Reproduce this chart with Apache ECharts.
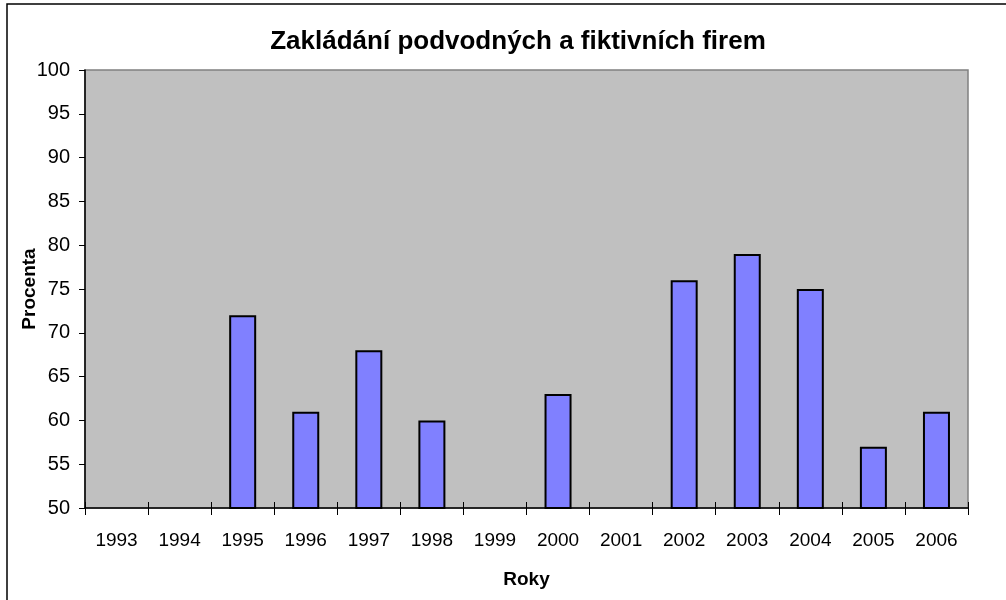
<!DOCTYPE html>
<html lang="cs">
  <head>
    <meta charset="UTF-8" />
    <title>Zakládání podvodných a fiktivních firem</title>
    <script src="https://cdn.jsdelivr.net/npm/echarts@6/dist/echarts.min.js"></script>
  </head>
  <body style="margin: 0">
    <div id="chart" style="width: 1006px; height: 600px"></div>
    <script>
      const years = ["1993", "1994", "1995", "1996", "1997", "1998", "1999", "2000", "2001", "2002", "2003", "2004", "2005", "2006"];
      const percent = [null, null, 72, 61, 68, 60, null, 63, null, 76, 79, 75, 57, 61];

      const font = "Liberation Sans, Arial, sans-serif";
      const chart = echarts.init(document.getElementById("chart"));

      const option = {
        animation: false,
        backgroundColor: "#fff",
        textStyle: { fontFamily: font },
        title: {
          text: "Zakládání podvodných a fiktivních firem",
          left: 513,
          textAlign: "center",
          top: 24,
          textStyle: { fontSize: 26, fontWeight: "bold", color: "#000", fontFamily: font },
        },
        graphic: [
          {
            type: "rect",
            shape: { x: 7, y: 4, width: 1100, height: 700 },
            style: { fill: null, stroke: "#000", lineWidth: 1.5 },
          },
        ],
        grid: {
          left: 85,
          right: 38,
          top: 70,
          bottom: 92,
          show: true,
          backgroundColor: "#c0c0c0",
          borderColor: "#808080",
          borderWidth: 1.5,
        },
        xAxis: [
          {
            type: "category",
            data: years,
            name: "Roky",
            nameLocation: "middle",
            nameGap: 62,
            nameMoveOverlap: false,
            nameTextStyle: { fontSize: 19, fontWeight: "bold", color: "#000" },
            axisLine: { lineStyle: { color: "#000", width: 1.5 } },
            axisTick: { show: true, length: 7, lineStyle: { color: "#000" } },
            axisLabel: { fontSize: 19, color: "#000", margin: 23 },
          },
          {
            type: "category",
            data: years,
            position: "bottom",
            axisLine: { show: false },
            axisTick: { show: true, inside: true, length: 6, lineStyle: { color: "#000" } },
            axisLabel: { show: false },
          },
        ],
        yAxis: {
          type: "value",
          min: 50,
          max: 100,
          interval: 5,
          name: "Procenta",
          nameLocation: "middle",
          nameGap: 46,
          nameMoveOverlap: false,
          nameTextStyle: { fontSize: 19, fontWeight: "bold", color: "#000" },
          axisLine: { show: true, lineStyle: { color: "#000", width: 1.5 } },
          axisTick: { show: true, length: 6, lineStyle: { color: "#000" } },
          axisLabel: { fontSize: 20, color: "#000", margin: 15 },
          splitLine: { show: false },
        },
        series: [
          {
            type: "bar",
            data: percent,
            barWidth: 27,
            itemStyle: { color: "#8080ff", borderColor: "#000", borderWidth: 2 },
          },
        ],
      };

      chart.setOption(option);
    </script>
  </body>
</html>
